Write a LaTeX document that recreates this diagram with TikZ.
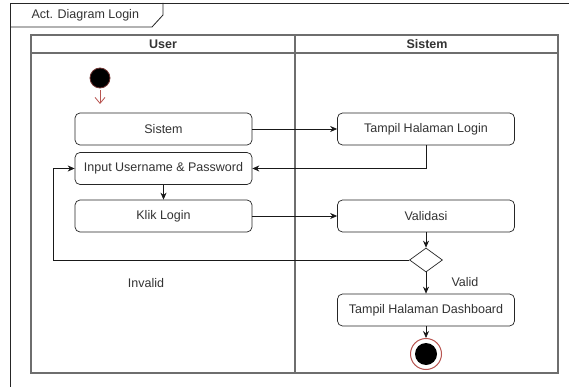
\documentclass[tikz,border=0pt]{standalone}
\usepackage{fontspec}
\setmainfont{Liberation Sans}
\usetikzlibrary{arrows.meta,shapes.geometric}
\definecolor{lanegray}{HTML}{6E6E6E}
\definecolor{startred}{HTML}{B85450}
\definecolor{txtgray}{HTML}{333333}
\tikzset{
  act/.style={draw=black!85, rounded corners=5pt, minimum width=177pt, minimum height=32pt, inner sep=0pt, font=\fontsize{12.5}{14}\selectfont, text=txtgray, line width=0.7pt},
  flow/.style={draw=black!90, line width=0.7pt, -{Stealth[length=7pt,width=6pt]}},
  lab/.style={font=\fontsize{12.5}{14}\selectfont, text=txtgray},
  lane/.style={draw=lanegray, line width=1.1pt}
}
\begin{document}
\begin{tikzpicture}[x=1pt,y=-1pt]
\useasboundingbox (0,0) rectangle (569,387);
\fill[white] (0,0) rectangle (569,387);
% outer frame
\draw[black!85, line width=0.8pt] (10,390) -- (10,3) -- (572,3);
\draw[black!85, line width=0.8pt] (10,27) -- (152,27) -- (163,15) -- (163,3);
\node[lab, anchor=west] (title) at (28,15) {Act. Diagram Login};
% swimlanes
\draw[lane] (31,35) rectangle (558,373);
\draw[lane] (31,53) -- (558,53);
\draw[lane] (295,35) -- (295,373);
\node[lab, font=\bfseries\fontsize{12.5}{14}\selectfont] (huser) at (163,44) {User};
\node[lab, font=\bfseries\fontsize{12.5}{14}\selectfont] (hsis) at (427,44) {Sistem};
% nodes
\node[circle, fill=black, draw=startred!60!black, line width=0.8pt, minimum size=20pt, inner sep=0pt] (start) at (100,78) {};
\node[act] (sistem) at (163.5,129) {Sistem};
\node[act] (input) at (163.5,168.5) {Input Username \& Password};
\node[act] (klik) at (163.5,216) {Klik Login};
\node[act] (login) at (426,129) {Tampil Halaman Login};
\node[act] (valid) at (426,216) {Validasi};
\node[diamond, draw=black!85, line width=0.7pt, minimum width=33pt, minimum height=24pt, inner sep=0pt] (dec) at (426,260) {};
\node[act] (dash) at (426,310) {Tampil Halaman Dashboard};
\node[circle, draw=startred, line width=1pt, minimum size=31pt, inner sep=0pt] (endo) at (426,354) {};
\node[circle, fill=black, minimum size=22pt, inner sep=0pt] (endi) at (426,354) {};
\coordinate (startArr) at (100,104);
\coordinate (loopL) at (53,260);
% connectors
\draw[startred, line width=0.8pt, -{Straight Barb[length=6pt,width=10pt]}] ([yshift=-2pt]start.south) -- (startArr);
\draw[flow] (sistem.east) -- (login.west);
\draw[flow] (login.south) |- (input.east);
\draw[flow] (input.south) -- (klik.north);
\draw[flow] (klik.east) -- (valid.west);
\draw[flow] (valid.south) -- (dec.north);
\draw[flow] (dec.west) -- (loopL) |- (input.west);
\draw[flow] (dec.south) -- (dash.north);
\draw[flow] (dash.south) -- (endo.north);
\node[lab] (linv) at (146,283) {Invalid};
\node[lab] (lval) at (465,282) {Valid};
\end{tikzpicture}
\end{document}
